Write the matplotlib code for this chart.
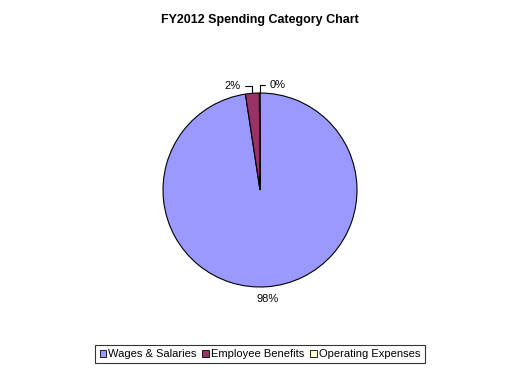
import numpy as np
import matplotlib
matplotlib.use('Agg')
from matplotlib import pyplot as plt
from matplotlib.patches import Patch

plt.rcParams['font.family'] = ['Liberation Sans', 'DejaVu Sans']

categories = ['Wages & Salaries', 'Employee Benefits', 'Operating Expenses']
values = [97.6, 2.3, 0.1]
colors = ['#9999FF', '#993366', '#FFFFCC']
title = 'FY2012 Spending Category Chart'

fig = plt.figure(figsize=(5.2, 3.73), dpi=100)
W, H = 520, 373
cx, cy, r = 260, 190, 97
half = 130
ax = fig.add_axes([(cx - half) / W, 1 - (cy + half) / H, 2 * half / W, 2 * half / H])

wedges, _ = ax.pie(values, colors=colors, startangle=90, counterclock=False,
                   radius=1, wedgeprops=dict(edgecolor='black', linewidth=0.8))
lim = half / r
ax.set_xlim(-lim, lim)
ax.set_ylim(-lim, lim)
ax.set_aspect('equal')
ax.axis('off')

total = sum(values)
pcts = ['%d%%' % round(v / total * 100) for v in values]

# big slice label under the pie
w = wedges[0]
ang = np.deg2rad((w.theta1 + w.theta2) / 2)
ax.text(1.08 * np.cos(ang), 1.08 * np.sin(ang), pcts[0], ha='center', va='top', fontsize=8)

# small slices with leader lines
offsets = [None, (-0.12, 0.08), (0.1, 0.08)]
for i in (1, 2):
    w = wedges[i]
    ang = np.deg2rad((w.theta1 + w.theta2) / 2)
    x0, y0 = np.cos(ang), np.sin(ang)
    dx, dy = offsets[i]
    ax.annotate(pcts[i], xy=(x0, y0), xytext=(x0 + dx, y0 + dy),
                ha='right' if dx < 0 else 'left', va='center', fontsize=8,
                arrowprops=dict(arrowstyle='-', color='black', lw=0.8,
                                connectionstyle='angle,angleA=0,angleB=90,rad=0',
                                shrinkA=1, shrinkB=0))

fig.text(0.5, 1 - 20 / H, title, ha='center', va='center', fontsize=9, fontweight='bold')

handles = [Patch(facecolor=c, edgecolor='black', linewidth=0.6) for c in colors]
leg = fig.legend(handles, categories, loc='center', bbox_to_anchor=(0.5, 1 - 354 / H),
                 ncol=3, fontsize=8, frameon=True, fancybox=False, handlelength=0.6,
                 handleheight=0.6, handletextpad=0.2, columnspacing=0.5,
                 borderpad=0.4, borderaxespad=0)
leg.get_frame().set_edgecolor('black')
leg.get_frame().set_linewidth(0.8)

fig.savefig('out.png', dpi=100, facecolor='white')
